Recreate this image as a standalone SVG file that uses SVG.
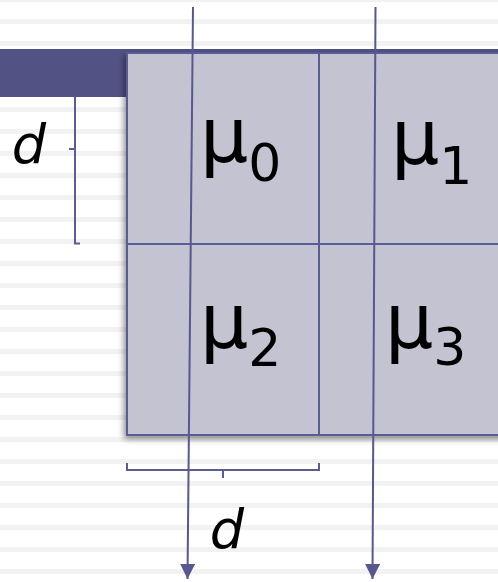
<svg xmlns="http://www.w3.org/2000/svg" width="498" height="582" viewBox="0 0 498 582">
  <defs>
    <filter id="shadow" x="-10%" y="-10%" width="120%" height="120%">
      <feDropShadow dx="-2" dy="3" stdDeviation="3" flood-color="#000" flood-opacity="0.45"/>
    </filter>
    <marker id="arrow" viewBox="0 0 15 15" refX="15" refY="7.5" markerWidth="15" markerHeight="15" markerUnits="userSpaceOnUse" orient="auto">
      <path d="M0,0 L15,7.5 L0,15 Z" fill="#56588f"/>
    </marker>
  </defs>
  <style>
    .stripe { fill: #f2f2f2; }
    .grid { stroke: #5a5c96; stroke-width: 2; fill: none; }
    .bracket { stroke: #5a5c96; stroke-width: 2; fill: none; }
    .conn { stroke: #56588f; stroke-width: 2; fill: none; marker-end: url(#arrow); }
    .mu { font-family: "DejaVu Sans", sans-serif; font-size: 76px; fill: #000; }
    .sub { font-size: 52px; }
    .d { font-family: "DejaVu Sans", sans-serif; font-style: italic; font-size: 54px; fill: #000; text-anchor: middle; }
  </style>

  <rect x="0" y="0" width="498" height="582" fill="#ffffff"/>
  <g id="background-lines">
    <rect class="stripe" x="0" y="-3" width="498" height="5"/>
    <rect class="stripe" x="0" y="19" width="498" height="5"/>
    <rect class="stripe" x="0" y="41" width="498" height="5"/>
    <rect class="stripe" x="0" y="63" width="498" height="5"/>
    <rect class="stripe" x="0" y="85" width="498" height="5"/>
    <rect class="stripe" x="0" y="107" width="498" height="5"/>
    <rect class="stripe" x="0" y="129" width="498" height="5"/>
    <rect class="stripe" x="0" y="151" width="498" height="5"/>
    <rect class="stripe" x="0" y="173" width="498" height="5"/>
    <rect class="stripe" x="0" y="195" width="498" height="5"/>
    <rect class="stripe" x="0" y="217" width="498" height="5"/>
    <rect class="stripe" x="0" y="239" width="498" height="5"/>
    <rect class="stripe" x="0" y="261" width="498" height="5"/>
    <rect class="stripe" x="0" y="283" width="498" height="5"/>
    <rect class="stripe" x="0" y="305" width="498" height="5"/>
    <rect class="stripe" x="0" y="327" width="498" height="5"/>
    <rect class="stripe" x="0" y="349" width="498" height="5"/>
    <rect class="stripe" x="0" y="371" width="498" height="5"/>
    <rect class="stripe" x="0" y="393" width="498" height="5"/>
    <rect class="stripe" x="0" y="415" width="498" height="5"/>
    <rect class="stripe" x="0" y="437" width="498" height="5"/>
    <rect class="stripe" x="0" y="459" width="498" height="5"/>
    <rect class="stripe" x="0" y="481" width="498" height="5"/>
    <rect class="stripe" x="0" y="503" width="498" height="5"/>
    <rect class="stripe" x="0" y="525" width="498" height="5"/>
    <rect class="stripe" x="0" y="547" width="498" height="5"/>
    <rect class="stripe" x="0" y="569" width="498" height="5"/>
  </g>

  <g id="title-bar">
    <rect x="0" y="49" width="498" height="48" fill="#515385"/>
  </g>

  <g id="grid-box">
    <rect x="127" y="53" width="390" height="382" fill="#c3c3d1" stroke="#5a5c96" stroke-width="2" filter="url(#shadow)"/>
    <line class="grid" x1="319" y1="53" x2="319" y2="435"/>
    <line class="grid" x1="127" y1="244" x2="498" y2="244"/>
  </g>

  <g id="cell-mu0">
    <text class="mu" x="200" y="162">μ<tspan class="sub" dy="19">0</tspan></text>
  </g>
  <g id="cell-mu1">
    <text class="mu" x="391" y="164">μ<tspan class="sub" dy="20">1</tspan></text>
  </g>
  <g id="cell-mu2">
    <text class="mu" x="200" y="348">μ<tspan class="sub" dy="18">2</tspan></text>
  </g>
  <g id="cell-mu3">
    <text class="mu" x="385" y="348">μ<tspan class="sub" dy="17">3</tspan></text>
  </g>

  <g id="bracket-left">
    <path class="bracket" d="M75,97 V243.5 H80 M75,149 H69"/>
    <text class="d" x="29" y="163">d</text>
  </g>

  <g id="bracket-bottom">
    <path class="bracket" d="M127,463 V470 H319 V463 M223,470 V478"/>
    <text class="d" x="227" y="548">d</text>
  </g>

  <g id="connectors">
    <line class="conn" x1="193" y1="7" x2="187.5" y2="579"/>
    <line class="conn" x1="375.5" y1="7" x2="372.5" y2="579"/>
  </g>
</svg>
